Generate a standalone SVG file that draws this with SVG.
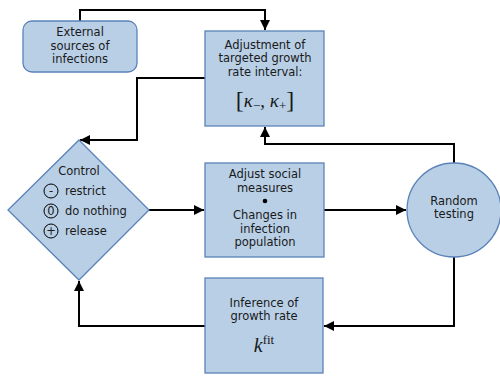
<svg xmlns="http://www.w3.org/2000/svg" width="500" height="376" viewBox="0 0 500 376">
<defs>
<marker id="ah" viewBox="0 0 10 10" refX="10" refY="5" markerWidth="10" markerHeight="10" markerUnits="userSpaceOnUse" orient="auto">
<path d="M0,0 L10,5 L0,10 z" fill="#000"/>
</marker>
<style>
.n{fill:#b8cfe6;stroke:#5b83b9;stroke-width:1.3}
.t{font-family:"DejaVu Sans",sans-serif;font-size:11.5px;fill:#1a1a1a;text-anchor:middle}
.ts{font-family:"DejaVu Sans",sans-serif;font-size:11.5px;fill:#1a1a1a}
.m{font-family:"Liberation Serif",serif;fill:#1a1a1a}
.c{fill:none;stroke:#000;stroke-width:2}
.sym{fill:none;stroke:#000;stroke-width:1}
</style>
</defs>
<rect width="500" height="376" fill="#fff"/>
<g id="connectors">
<path class="c" d="M80,21 V10 H265 V30" marker-end="url(#ah)"/>
<path class="c" d="M205,78 H137 V140 H80" marker-end="url(#ah)"/>
<path class="c" d="M149,210 H204" marker-end="url(#ah)"/>
<path class="c" d="M324,210 H406" marker-end="url(#ah)"/>
<path class="c" d="M454,163 V144 H265 V127" marker-end="url(#ah)"/>
<path class="c" d="M454,257 V326 H324" marker-end="url(#ah)"/>
<path class="c" d="M205,326 H79 V281" marker-end="url(#ah)"/>
</g>
<g id="external">
<rect class="n" x="23" y="21" width="114" height="51" rx="9"/>
<text class="t" x="80" y="36">External</text>
<text class="t" x="80" y="50">sources of</text>
<text class="t" x="80" y="63">infections</text>
</g>
<g id="adjustment">
<rect class="n" x="205" y="31" width="119" height="95"/>
<text class="t" x="265" y="49">Adjustment of</text>
<text class="t" x="265" y="62">targeted growth</text>
<text class="t" x="265" y="76">rate interval:</text>
<text class="m" x="265" y="107" text-anchor="middle" font-size="19"><tspan font-size="24" dy="1">[</tspan><tspan font-style="italic" dy="-1">κ</tspan><tspan font-size="13" dy="3">−</tspan><tspan dy="-3">, </tspan><tspan font-style="italic">κ</tspan><tspan font-size="13" dy="3">+</tspan><tspan font-size="24" dy="-2">]</tspan></text>
</g>
<g id="control">
<path class="n" d="M79,140 L149,210 L79,280 L8,210 Z"/>
<text class="t" x="79" y="175">Control</text>
<circle class="sym" cx="51" cy="191" r="7"/>
<text class="t" x="51" y="195">-</text>
<text class="ts" x="65" y="195">restrict</text>
<circle class="sym" cx="51" cy="211" r="7"/>
<text class="t" x="51" y="215">0</text>
<text class="ts" x="65" y="215">do nothing</text>
<circle class="sym" cx="51" cy="231" r="7"/>
<text class="t" x="51" y="235">+</text>
<text class="ts" x="65" y="235">release</text>
</g>
<g id="social">
<rect class="n" x="205" y="163" width="119" height="94"/>
<text class="t" x="265" y="178">Adjust social</text>
<text class="t" x="265" y="192">measures</text>
<circle cx="265" cy="201" r="2.3" fill="#000"/>
<text class="t" x="265" y="219">Changes in</text>
<text class="t" x="265" y="233">infection</text>
<text class="t" x="265" y="246">population</text>
</g>
<g id="testing">
<circle class="n" cx="454" cy="210" r="47"/>
<text class="t" x="454" y="205">Random</text>
<text class="t" x="454" y="218">testing</text>
</g>
<g id="inference">
<rect class="n" x="205" y="278" width="118" height="95"/>
<text class="t" x="264" y="307">Inference of</text>
<text class="t" x="264" y="320">growth rate</text>
<text class="m" x="264" y="352" text-anchor="middle" font-size="20"><tspan font-style="italic">k</tspan><tspan font-size="13" dy="-8">fit</tspan></text>
</g>
</svg>
